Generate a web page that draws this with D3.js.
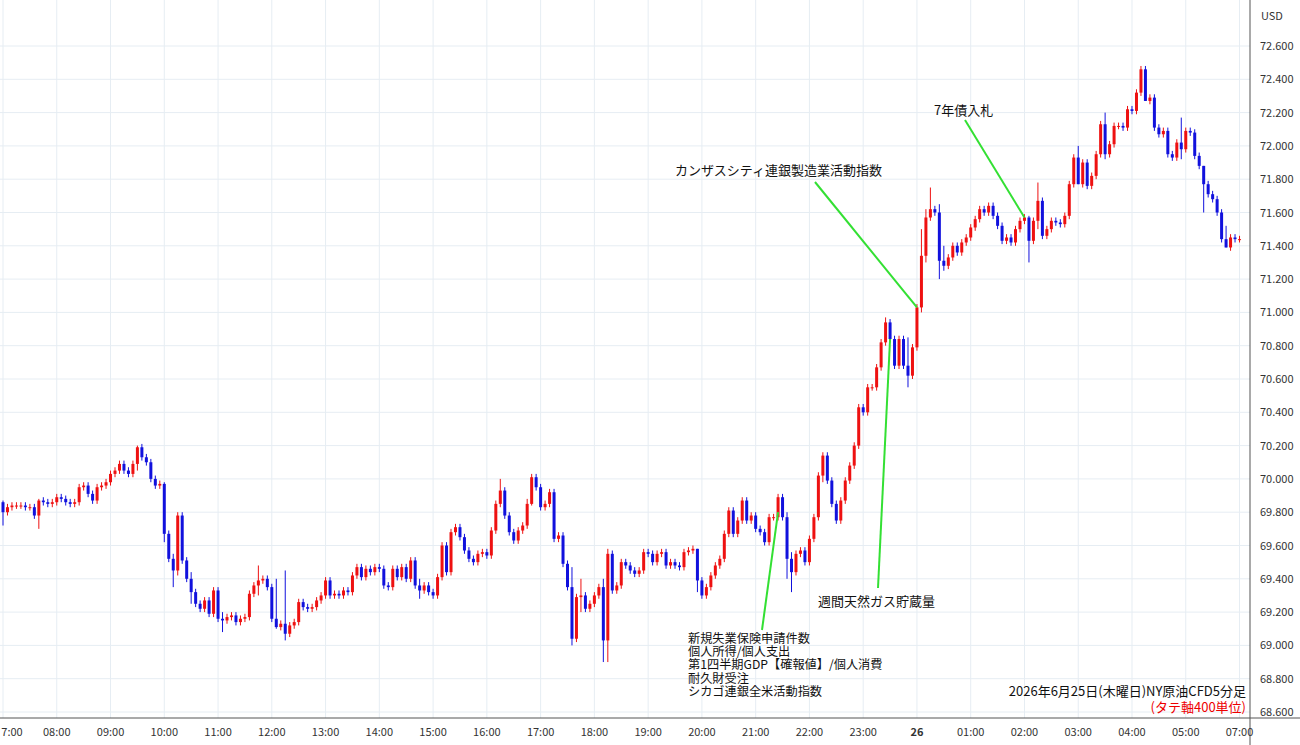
<!DOCTYPE html>
<html><head><meta charset="utf-8">
<script src="https://cdn.jsdelivr.net/npm/d3@7/dist/d3.min.js"></script>
<style>body{margin:0;background:#fff}svg{display:block;font-family:"Noto Sans CJK JP","DejaVu Sans",sans-serif}</style>
</head><body><svg id="c" width="1300" height="745"></svg>
<script>
// 5-minute closes from 07:00 (index 0)
const closes = [
69.80,69.83,69.84,69.84,69.84,69.83,69.83,69.78,69.87,69.86,69.85,69.86,
69.89,69.88,69.86,69.85,69.86,69.95,69.96,69.91,69.87,69.95,69.96,69.98,
70.03,70.05,70.09,70.05,70.03,70.09,70.19,70.13,70.10,70.00,69.96,69.97,
69.67,69.52,69.45,69.78,69.51,69.40,69.32,69.25,69.22,69.27,69.19,69.33,
69.16,69.15,69.17,69.18,69.14,69.16,69.17,69.31,69.36,69.39,69.40,69.35,
69.16,69.11,69.13,69.07,69.12,69.14,69.26,69.23,69.22,69.23,69.27,69.30,
69.39,69.30,69.31,69.30,69.33,69.32,69.42,69.47,69.41,69.46,69.44,69.47,
69.46,69.36,69.35,69.46,69.41,69.47,69.40,69.51,69.36,
69.33,69.36,69.32,69.30,69.41,69.60,69.44,69.68,69.71,69.65,69.57,69.52,
69.50,69.55,69.56,69.54,69.69,69.85,69.93,69.78,69.68,69.63,69.69,69.72,
69.85,70.01,69.95,69.83,69.85,69.92,69.64,69.66,69.49,69.35,69.04,69.29,
69.30,69.22,69.25,69.30,69.35,69.03,69.55,69.33,69.36,69.50,69.48,69.45,
69.43,69.45,69.56,69.55,69.50,69.55,69.56,69.48,69.50,69.48,69.47,69.56,
69.57,69.58,69.39,69.30,69.35,69.42,69.48,69.52,69.67,69.81,69.67,69.75,
69.87,69.75,69.78,
69.70,69.68,69.62,69.77,69.77,69.89,69.77,69.52,69.44,69.55,69.57,69.50,
69.64,69.77,70.02,70.14,69.99,69.85,69.75,69.87,69.99,70.08,70.20,70.43,
70.40,70.55,70.55,70.67,70.82,70.94,70.84,70.68,70.84,70.68,70.62,70.79,
71.03,71.34,71.57,71.62,71.60,71.31,71.28,71.33,71.40,71.36,71.42,71.45,
71.51,71.56,71.62,71.60,71.64,71.58,71.52,71.43,71.45,71.42,71.50,71.55,
71.57,71.43,71.55,71.67,71.46,71.50,71.55,71.54,71.53,71.58,71.77,71.93,
71.77,71.90,71.76,71.82,71.95,72.13,71.95,72.01,72.12,72.12,72.11,72.22,
72.21,72.32,72.46,72.27,72.29,72.11,72.07,72.09,71.95,71.93,72.02,71.98,
72.09,72.08,71.94,71.88,71.77,71.71,71.68,71.60,71.44,71.39,71.45,71.44,71.44
];
const firstOpen = 69.86;
// notable wick extremes: index -> [high, low]
const wicks = {0:[69.87,69.72],8:[69.88,69.70],30:[70.20,70.05],36:[69.98,69.62],38:[69.55,69.35],39:[69.80,69.42],
 42:[69.44,69.25],49:[69.20,69.08],57:[69.48,69.30],63:[69.45,69.03],61:[69.40,69.10],93:[69.40,69.28],
 111:[70.00,69.83],117:[69.88,69.70],118:[70.03,69.84],127:[69.47,69.00],129:[69.40,69.20],134:[69.40,68.90],
 135:[69.58,68.90],155:[69.56,69.32],175:[69.80,69.40],176:[69.56,69.32],183:[70.16,69.98],197:[70.97,70.80],
 202:[70.85,70.55],205:[71.50,71.00],206:[71.62,71.30],207:[71.75,71.55],209:[71.65,71.20],210:[71.40,71.25],
 229:[71.58,71.30],231:[71.78,71.50],240:[72.00,71.77],246:[72.20,71.92],255:[72.48,72.30],263:[72.17,71.92],
 273:[71.52,71.40],268:[71.80,71.60]};
const hourLabels = ["7:00","08:00","09:00","10:00","11:00","12:00","13:00","14:00","15:00","16:00","17:00","18:00","19:00","20:00","21:00","22:00","23:00","26","01:00","02:00","03:00","04:00","05:00"];
const lastLabel = "07:00";
const yTicks = d3.range(68.6, 72.61, 0.2);

const svg = d3.select("#c");
const W = 1250, H = 718;
const x = d3.scaleLinear().domain([0, 277]).range([3, 1244]);
const y = d3.scaleLinear().domain([68.6, 72.6]).range([712, 46]);

const g = svg.append("g");
yTicks.forEach(v => g.append("line").attr("x1",0).attr("x2",W).attr("y1",y(v)).attr("y2",y(v)).attr("stroke","#e6edf3"));
const xTickIdx = hourLabels.map((_,h)=>h*12).concat([276]);
xTickIdx.forEach(i => g.append("line").attr("x1",x(i)).attr("x2",x(i)).attr("y1",0).attr("y2",H).attr("stroke","#e6edf3"));

const data = closes.map((c,i)=>{
  const o = i===0 ? firstOpen : closes[i-1];
  const w = wicks[i];
  const hi = w ? Math.max(w[0], o, c) : Math.max(o,c)+0.02;
  const lo = w ? Math.min(w[1], o, c) : Math.min(o,c)-0.02;
  return {i,o,c,hi,lo};
});
const cg = svg.append("g");
data.forEach(d=>{
  const col = d.c >= d.o ? "#ee1111" : "#1111dd";
  const cx = x(d.i);
  cg.append("line").attr("x1",cx).attr("x2",cx).attr("y1",y(d.hi)).attr("y2",y(d.lo)).attr("stroke",col).attr("stroke-width",1);
  const top = y(Math.max(d.o,d.c)), bot = y(Math.min(d.o,d.c));
  cg.append("rect").attr("x",cx-1.5).attr("width",3).attr("y",top).attr("height",Math.max(1,bot-top)).attr("fill",col);
});

const ax = svg.append("g").attr("transform",`translate(${W},0)`);
ax.append("line").attr("y1",0).attr("y2",745).attr("stroke","#555");
yTicks.forEach(v => ax.append("text").attr("x",10).attr("y",y(v)+4).attr("font-size",11).attr("fill","#333").text(v.toFixed(3)));
ax.append("text").attr("x",11).attr("y",20).attr("font-size",11).attr("fill","#333").text("USD");
svg.append("line").attr("x1",0).attr("x2",1300).attr("y1",H).attr("y2",H).attr("stroke","#555");
const xl = svg.append("g");
hourLabels.forEach((t,h)=> xl.append("text").attr("x",Math.max(x(h*12),12)).attr("y",736).attr("text-anchor","middle").attr("font-size",11)
  .attr("fill","#333").attr("font-weight", t==="26"?"bold":"normal").text(t));
xl.append("text").attr("x",x(276)).attr("y",736).attr("text-anchor","middle").attr("font-size",11).attr("fill","#333").text(lastLabel);

const green = "#33e033";
function ann(i, price, tx, ty){ svg.append("line").attr("x1",x(i)).attr("y1",y(price)).attr("x2",tx).attr("y2",ty).attr("stroke",green).attr("stroke-width",2); }
ann(204, 71.03, 815, 182);
ann(228, 71.57, 965, 120);
ann(198, 70.84, 878, 588);
ann(173, 69.80, 762, 630);
const ta = (t,xx,yy,c="#111",anchor="start",fs=13)=>svg.append("text").attr("x",xx).attr("y",yy).attr("font-size",fs).attr("fill",c).attr("text-anchor",anchor).text(t);
ta("カンザスシティ連銀製造業活動指数",675,175);
ta("7年債入札",934,115);
ta("週間天然ガス貯蔵量",818,606);
["新規失業保険申請件数","個人所得/個人支出","第1四半期GDP【確報値】/個人消費","耐久財受注","シカゴ連銀全米活動指数"]
 .forEach((t,k)=>ta(t,688,643+k*13.2,"#111","start",12.2));
ta("2026年6月25日(木曜日)NY原油CFD5分足",1246,696,"#111","end");
ta("(タテ軸400単位)",1246,712,"#e00","end");
</script></body></html>
